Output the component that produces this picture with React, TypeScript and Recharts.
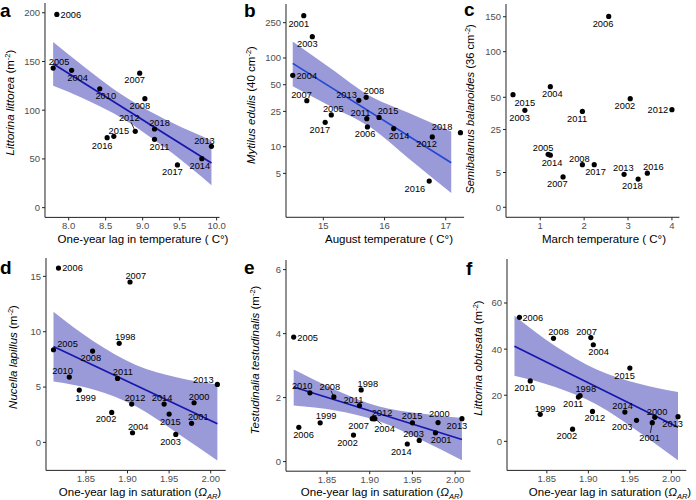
import React from 'react';
import { Area, ComposedChart, Line, Scatter, XAxis, YAxis } from 'recharts';

const FONT = '"Liberation Sans", Arial, Helvetica, sans-serif';
const BAND = '#9a9ad8';
const FIT = '#1616ae';

// a: Littorina littorea vs one-year lag in temperature
const aYears = [2004, 2005, 2006, 2007, 2008, 2010, 2011, 2012, 2013, 2014, 2015, 2016, 2017, 2018];
const aTemp = [8.04, 7.79, 7.84, 8.96, 9.03, 8.42, 9.16, 8.9, 9.93, 9.8, 8.61, 8.52, 9.47, 9.16];
const aDensity = [140.9, 143.2, 198.3, 138, 111.8, 122, 70.1, 78.3, 62.9, 50.3, 73.2, 71.8, 43.8, 80.7];
const aFitX = [7.79, 9.93];
const aFitY = [147.7, 45.8];
const aBandX = [7.79, 8.2, 8.6, 9.0, 9.4, 9.93];
const aBandLo = [125, 112, 97, 78, 56, 23];
const aBandHi = [170, 145, 122, 103, 87, 69];

// b: Mytilus edulis vs August temperature (log axis)
const bYears = [2001, 2003, 2004, 2005, 2006, 2007, 2008, 2011, 2012, 2013, 2014, 2015, 2016, 2017, 2018];
const bTemp = [14.68, 14.82, 14.5, 15.13, 15.72, 14.73, 15.7, 15.71, 16.78, 15.58, 16.15, 15.91, 16.73, 15.03, 17.24];
const bMussels = [300, 174, 63.8, 22.8, 16.7, 33, 36, 20.7, 12.9, 33.3, 16, 21.4, 4.1, 18.8, 14.4];
const bFitX = [14.5, 17.09];
const bFitY = [87, 6.6];
const bBandX = [14.5, 15.1, 15.8, 16.4, 17.09];
const bBandLo = [48, 29, 16, 7.3, 3.0];
const bBandHi = [153, 78, 36, 24, 14.8];

// c: Semibalanus balanoides vs March temperature (sqrt axis)
const cYears = [2002, 2003, 2004, 2005, 2006, 2007, 2008, 2011, 2012, 2013, 2014, 2015, 2016, 2017, 2018];
const cTemp = [3.05, 0.65, 1.23, 1.18, 2.56, 1.52, 1.96, 1.96, 4.0, 2.91, 1.23, 0.38, 3.44, 2.23, 3.23];
const cBarnacles = [48.7, 38.8, 60.1, 11.6, 150.5, 3.8, 7.5, 38, 39.4, 4.5, 11.2, 52.4, 4.8, 7.5, 3.3];

// d-f: one-year lag in aragonite saturation
const satYears = [1998, 1999, 2000, 2001, 2002, 2003, 2004, 2005, 2006, 2007, 2008, 2010, 2011, 2012, 2013, 2014, 2015];
const satLag = [1.89, 1.842, 1.98, 1.977, 1.881, 1.958, 1.906, 1.811, 1.817, 1.903, 1.858, 1.83, 1.888, 1.905, 2.008, 1.944, 1.95];
const nucella = [8.95, 4.73, 3.58, 1.72, 2.71, 0.72, 0.87, 8.37, 15.75, 14.49, 8.25, 5.9, 5.78, 3.46, 5.24, 3.46, 2.56];
const testudinalia = [2.24, 1.21, 1.22, 0.9, 0.83, 0.66, 1.34, 3.89, 1.07, 1.34, 2.02, 2.15, 1.75, 1.34, 1.34, 0.55, 1.21];
const obtusata = [19.8, 11.7, 10.4, 8.1, 5.3, 9.1, 41.9, null, 53.8, 45.0, 44.7, 26.2, 19.2, 13.0, 10.7, 12.7, 31.8];

const satFitX = [1.811, 2.008];
const dFitY = [8.67, 1.68];
const eFitY = [2.33, 0.69];
const fFitY = [41.3, 6.1];
const satBandX = [1.811, 1.86, 1.91, 1.96, 2.008];
const dBandLo = [5.5, 4.75, 3.26, 0.83, -1.63];
const dBandHi = [11.8, 9.09, 7.0, 5.87, 5.24];
const eBandLo = [1.75, 1.6, 1.27, 0.68, 0.04];
const eBandHi = [2.875, 2.24, 1.73, 1.5, 1.36];
const fBandLo = [28.5, 23.6, 16.0, 4.3, -8.2];
const fBandHi = [54.5, 41.4, 31.2, 25.1, 21.4];

// where each year label sits, relative to its point (px)
const aNudge = [[6, 7], [6, -6], [14, 0.5], [-5, 7], [-5, 7], [6, 7], [5, 7], [-6, -13.5], [-7, -6], [-2, 7], [5, -6], [-5, 8], [-5, 7], [5, -6]];
const bNudge = [[-5, 7.7], [-5, 7.3], [14, 0.7], [2, -6.3], [-2.3, 7.3], [-5.3, -6.3], [7.7, -6.7], [-6.3, -6], [-5.7, 7.3], [-12.3, -5.7], [5.3, 7.3], [9, -6.3], [-14.3, 7.3], [-5.3, 7.3], [-18.3, -6]];
const cNudge = [[-5.3, 7], [-5.3, 7.3], [2, 7.3], [-5, -7], [-5.7, 7.7], [-5.7, 6.7], [-3, -6], [-5.3, 7], [-14, 0.3], [-0.7, -6.7], [1.7, 7.7], [11.7, 7.7], [6, -6.7], [1.3, 7], [-5.7, 6.7]];
const dNudge = [[6, -6.3], [6.3, 7.3], [5, -6.3], [6.7, -6.3], [-5.7, 6.7], [-5.3, 7.3], [5.7, -6.3], [14, -5.7], [14, 0], [5.7, -6.7], [-1.7, 7], [-6.7, -6.3], [5.3, -6.3], [3.3, -6], [-14, -4.7], [-2, -6], [1.3, 8]];
const eNudge = [[6.7, -6], [6, -6.7], [1.3, -8.5], [5.7, 7.3], [-6, 7.3], [-5.7, -6.7], [9.7, 10], [14, 0.7], [4.7, 7.3], [-13.7, 6.7], [-4, -10.7], [-7.7, -6.7], [-6, -5.7], [8, -6.3], [-5, 6.7], [-6, 7.3], [-0.3, -6.7]];
const fNudge = [[5.7, -6.7], [5, -6], [2.3, -6], [-2.7, 14.7], [-5.7, 6.7], [-14.3, 6], [5.3, 6.7], [0, 0], [13.3, 0.3], [-4.3, -6.3], [5, -6.7], [-5.7, 6.3], [-5.3, 7], [2.3, 6.7], [-5.3, 7.3], [-2.3, -6.7], [-5.3, 7.7]];

type Pt = { x: number; y: number; year: number; i: number };

const toPoints = (years: number[], xs: number[], ys: (number | null)[]): Pt[] =>
  years
    .map((year, i) => ({ x: xs[i], y: ys[i] as number, year, i }))
    .filter((p) => p.y !== null);
const toFit = (xs: number[], ys: number[]) => xs.map((x, i) => ({ x, fit: ys[i] }));
const toBand = (xs: number[], lo: number[], hi: number[]) => xs.map((x, i) => ({ x, band: [lo[i], hi[i]] }));

const axisStyle = { stroke: '#222', strokeWidth: 1 };
const tickStyle = { fill: '#4d4d4d', fontSize: 9.5, fontFamily: FONT };

function makeDot(nudges: number[][]) {
  return (props: any) => {
    const { cx, cy, payload } = props;
    const [dx, dy] = nudges[payload.i];
    const lx = cx + dx;
    const ly = cy + dy;
    return (
      <g>
        {Math.abs(dy) > 9.5 && (
          <line x1={cx} y1={cy} x2={cx + dx * 0.7} y2={ly - Math.sign(dy) * 4.5} stroke="#000" strokeWidth={0.8} />
        )}
        <circle cx={cx} cy={cy} r={2.6} fill="#000" />
        <text x={lx} y={ly} dy="0.35em" textAnchor="middle" fontSize={9.3} fontFamily={FONT} fill="#000">
          {payload.year}
        </text>
      </g>
    );
  };
}

interface PanelProps {
  plot: { x: number; y: number; w: number; h: number };
  xDomain: number[];
  xTicks: number[];
  xDigits: number;
  yDomain: number[];
  yTicks: number[];
  yScale?: 'linear' | 'log' | 'sqrt';
  points: Pt[];
  nudges: number[][];
  fit?: { x: number; fit: number }[];
  band?: { x: number; band: number[] }[];
  lineColor?: string;
}

function Panel({ plot, xDomain, xTicks, xDigits, yDomain, yTicks, yScale = 'linear', points, nudges, fit, band, lineColor = FIT }: PanelProps) {
  const W = 40;
  const T = 8;
  const R = 26;
  const H = 22;
  return (
    <div style={{ position: 'absolute', left: plot.x - W, top: plot.y - T }}>
      <ComposedChart width={W + plot.w + R} height={T + plot.h + H} margin={{ top: T, right: R, bottom: 0, left: 0 }}>
        <XAxis
          type="number"
          dataKey="x"
          domain={xDomain}
          ticks={xTicks}
          interval={0}
          tickFormatter={(v: number) => v.toFixed(xDigits)}
          height={H}
          axisLine={axisStyle}
          tickLine={axisStyle}
          tickSize={3}
          tick={tickStyle}
        />
        <YAxis
          type="number"
          domain={yDomain}
          ticks={yTicks}
          interval={0}
          scale={yScale}
          width={W}
          axisLine={axisStyle}
          tickLine={axisStyle}
          tickSize={3}
          tick={tickStyle}
        />
        {band && (
          <Area data={band} dataKey="band" type="monotone" stroke="none" fill={BAND} fillOpacity={1} isAnimationActive={false} />
        )}
        {fit && (
          <Line data={fit} dataKey="fit" type="linear" stroke={lineColor} strokeWidth={1.7} dot={false} isAnimationActive={false} />
        )}
        <Scatter data={points} dataKey="y" shape={makeDot(nudges)} isAnimationActive={false} />
      </ComposedChart>
    </div>
  );
}

function YTitle({ x, y, name, unit, size = 11.5 }: { x: number; y: number; name: string; unit: string; size?: number }) {
  return (
    <text transform={`rotate(-90 ${x} ${y})`} x={x} y={y} dy="0.35em" textAnchor="middle" fontSize={size}>
      <tspan fontStyle="italic">{name}</tspan>
      {` (${unit}`}
      <tspan dy={-4} fontSize={7.5}>-2</tspan>
      <tspan dy={4}>)</tspan>
    </text>
  );
}

function SatTitle({ x, y }: { x: number; y: number }) {
  return (
    <text x={x} y={y} dy="0.35em" textAnchor="middle" fontSize={11.5}>
      One-year lag in saturation (<tspan fontStyle="italic">Ω</tspan>
      <tspan fontStyle="italic" fontSize={7.5} dy={3}>AR</tspan>
      <tspan dy={-3}>)</tspan>
    </text>
  );
}

const satX = [1.802, 2.018];
const satTicks = [1.85, 1.9, 1.95, 2.0];

export default function App() {
  return (
    <div style={{ position: 'absolute', left: 0, top: 0, width: 696, height: 500, overflow: 'hidden', background: '#fff', fontFamily: FONT }}>
      <Panel
        plot={{ x: 44.5, y: 2.6, w: 174.6, h: 214.4 }}
        xDomain={[7.68, 10.04]}
        xTicks={[8, 8.5, 9, 9.5, 10]}
        xDigits={1}
        yDomain={[-10, 210]}
        yTicks={[0, 50, 100, 150, 200]}
        points={toPoints(aYears, aTemp, aDensity)}
        nudges={aNudge}
        fit={toFit(aFitX, aFitY)}
        band={toBand(aBandX, aBandLo, aBandHi)}
      />
      <Panel
        plot={{ x: 286, y: 4, w: 178.1, h: 213.3 }}
        xDomain={[14.39, 17.3]}
        xTicks={[15, 16, 17]}
        xDigits={0}
        yDomain={[1.6, 406]}
        yTicks={[5, 10, 25, 50, 100, 250]}
        yScale="log"
        points={toPoints(bYears, bTemp, bMussels)}
        nudges={bNudge}
        fit={toFit(bFitX, bFitY)}
        band={toBand(bBandX, bBandLo, bBandHi)}
        lineColor="#2448d2"
      />
      <Panel
        plot={{ x: 505.7, y: 4, w: 173.4, h: 213.3 }}
        xDomain={[0.22, 4.17]}
        xTicks={[1, 2, 3, 4]}
        xDigits={0}
        yDomain={[-0.413, 170.7]}
        yTicks={[0, 5, 25, 50, 100, 150]}
        yScale="sqrt"
        points={toPoints(cYears, cTemp, cBarnacles)}
        nudges={cNudge}
      />
      <Panel
        plot={{ x: 46, y: 258.3, w: 179.7, h: 212.4 }}
        xDomain={satX}
        xTicks={satTicks}
        xDigits={2}
        yDomain={[-2.53, 16.66]}
        yTicks={[0, 5, 10, 15]}
        points={toPoints(satYears, satLag, nucella)}
        nudges={dNudge}
        fit={toFit(satFitX, dFitY)}
        band={toBand(satBandX, dBandLo, dBandHi)}
      />
      <Panel
        plot={{ x: 286, y: 260.4, w: 184.5, h: 211.2 }}
        xDomain={satX}
        xTicks={satTicks}
        xDigits={2}
        yDomain={[-0.3, 6.3]}
        yTicks={[0, 2, 4, 6]}
        points={toPoints(satYears, satLag, testudinalia)}
        nudges={eNudge}
        fit={toFit(satFitX, eFitY)}
        band={toBand(satBandX, eBandLo, eBandHi)}
      />
      <Panel
        plot={{ x: 506.6, y: 259.3, w: 179.3, h: 211.4 }}
        xDomain={satX}
        xTicks={satTicks}
        xDigits={2}
        yDomain={[-12.6, 79.1]}
        yTicks={[0, 20, 40, 60]}
        points={toPoints(satYears, satLag, obtusata)}
        nudges={fNudge}
        fit={toFit(satFitX, fFitY)}
        band={toBand(satBandX, fBandLo, fBandHi)}
      />
      <svg width={696} height={500} style={{ position: 'absolute', left: 0, top: 0, pointerEvents: 'none' }} fontFamily={FONT}>
        <g fontSize={19} fontWeight="bold">
          <text x={0} y={17.3}>a</text>
          <text x={244} y={16.7}>b</text>
          <text x={464} y={16}>c</text>
          <text x={0} y={274}>d</text>
          <text x={244} y={273.5}>e</text>
          <text x={466} y={275}>f</text>
        </g>
        <YTitle x={10} y={102.5} name="Littorina littorea" unit="m" />
        <YTitle x={251} y={105} name="Mytilus edulis" unit="40 cm" />
        <YTitle x={470} y={109} name="Semibalanus balanoides" unit="36 cm" size={11.2} />
        <YTitle x={13} y={357} name="Nucella lapillus" unit="m" />
        <YTitle x={255} y={360} name="Testudinalia testudinalis" unit="m" />
        <YTitle x={478} y={358} name="Littorina obtusata" unit="m" />
        <g fontSize={11.5} textAnchor="middle">
          <text x={143} y={238.5} dy="0.35em">One-year lag in temperature ( C°)</text>
          <text x={389} y={238.5} dy="0.35em">August temperature ( C°)</text>
          <text x={604} y={238.5} dy="0.35em">March temperature ( C°)</text>
        </g>
        <SatTitle x={140} y={492} />
        <SatTitle x={382} y={492} />
        <SatTitle x={610} y={492} />
      </svg>
    </div>
  );
}
